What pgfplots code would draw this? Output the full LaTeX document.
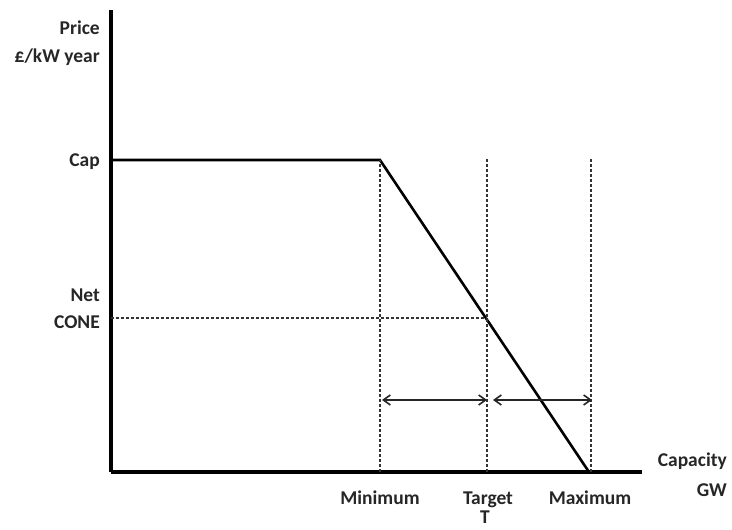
\documentclass[border=0pt]{standalone}
\usepackage{pgfplots}
\pgfplotsset{compat=1.18}
\usepackage{fontspec}
\setmainfont{Carlito}
\usetikzlibrary{arrows.meta}
\tikzset{lbl/.style={font=\fontsize{19.5}{22}\selectfont\bfseries, text=black!85, inner sep=0pt}}
\begin{document}
\begin{tikzpicture}
\useasboundingbox (-111pt,-58pt) rectangle (621pt,472pt);
\begin{axis}[
  x=1pt, y=1pt,
  xmin=0, xmax=531, ymin=0, ymax=462,
  axis lines=left,
  axis line style={-, line width=3.5pt, black},
  xtick=\empty, ytick=\empty,
  clip=false,
]
% main curve
\addplot[black, line width=2.6pt, line join=miter] coordinates {(0,312) (269,312) (478,0)};
% dashed guides
\addplot[black!80, line width=1.8pt, dash pattern=on 3pt off 2pt] coordinates {(269,0) (269,312)};
\addplot[black!80, line width=1.8pt, dash pattern=on 3pt off 2pt] coordinates {(376,0) (376,313)};
\addplot[black!80, line width=1.8pt, dash pattern=on 3pt off 2pt] coordinates {(480,0) (480,313)};
\addplot[black!80, line width=1.8pt, dash pattern=on 3pt off 2pt] coordinates {(0,154) (376,154)};
% range arrows
\addplot[black!85, line width=1.6pt, {Straight Barb[length=7pt,width=10pt]}-{Straight Barb[length=7pt,width=10pt]}] coordinates {(271,72) (376,72)};
\addplot[black!85, line width=1.6pt, {Straight Barb[length=7pt,width=10pt]}-{Straight Barb[length=7pt,width=10pt]}] coordinates {(382,72) (481,72)};
% labels
\node[lbl, anchor=base east] at (axis cs:-11,437) {Price};
\node[lbl, anchor=base east] at (axis cs:-11,409) {£/kW year};
\node[lbl, anchor=base east] at (axis cs:-11,305) {Cap};
\node[lbl, anchor=base east] at (axis cs:-11,170) {Net};
\node[lbl, anchor=base east] at (axis cs:-11,143) {CONE};
\node[lbl, anchor=base] at (axis cs:269,-33) {Minimum};
\node[lbl, anchor=base] at (axis cs:377,-33) {Target};
\node[lbl, anchor=base] at (axis cs:374,-52) {T};
\node[lbl, anchor=base] at (axis cs:479,-33) {Maximum};
\node[lbl, anchor=base east] at (axis cs:616,5) {Capacity};
\node[lbl, anchor=base east] at (axis cs:616,-25) {GW};
\end{axis}
\end{tikzpicture}
\end{document}
